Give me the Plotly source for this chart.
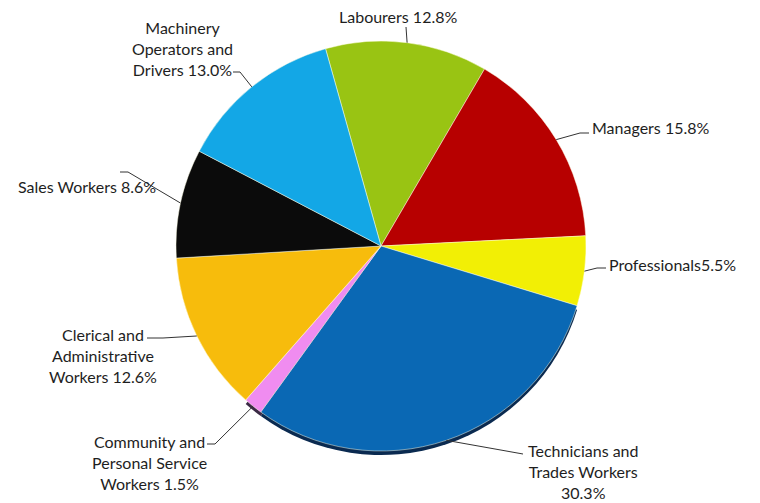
import math
import plotly.graph_objects as go

# Occupation shares (%), listed clockwise starting from Labourers
labels = [
    "Labourers",
    "Managers",
    "Professionals",
    "Technicians and Trades Workers",
    "Community and Personal Service Workers",
    "Clerical and Administrative Workers",
    "Sales Workers",
    "Machinery Operators and Drivers",
]
shares = [12.8, 15.8, 5.5, 30.3, 1.5, 12.6, 8.6, 13.0]
colors = ["#99c413", "#b70000", "#f2ef05", "#0a68b4",
          "#f08cf0", "#f7bc0c", "#0b0b0b", "#13a7e6"]

# Label text as printed beside each slice
label_text = [
    "Labourers 12.8%",
    "Managers 15.8%",
    "Professionals5.5%",
    "Technicians and<br>Trades Workers<br>30.3%",
    "Community and<br>Personal Service<br>Workers 1.5%",
    "Clerical and<br>Administrative<br>Workers 12.6%",
    "Sales Workers 8.6%",
    "Machinery<br>Operators and<br>Drivers 13.0%",
]

W, H = 760, 503
CX, CY, R = 381, 246, 205
ROTATION = -15.7

# label placement (pixels): text anchor, alignment, elbow of leader line, line end near text
label_pos = [
    dict(x=398, y=17, xanchor="center", elbow=(406, 27), end=(406, 27)),
    dict(x=590, y=128, xanchor="left", elbow=(580, 133), end=(589, 133)),
    dict(x=607, y=264, xanchor="left", elbow=(597, 268), end=(606, 268)),
    dict(x=583, y=471, xanchor="center", elbow=(523, 454), end=(523, 454)),
    dict(x=149, y=462, xanchor="center", elbow=(215, 444), end=(207, 444)),
    dict(x=103, y=355, xanchor="center", elbow=(163, 338), end=(147, 338)),
    dict(x=87, y=186, xanchor="center", elbow=(128, 172), end=(120, 172)),
    dict(x=182, y=48, xanchor="center", elbow=(240, 72), end=(233, 72)),
]

def px(x):
    return x / W

def py(y):
    return 1 - y / H

fig = go.Figure()

# dark rim under the front slices
shadow_colors = ["rgba(0,0,0,0)"] * len(shares)
shadow_colors[3] = "#0a2a50"
shadow_colors[4] = "#3a2a45"
SH = 4
fig.add_trace(go.Pie(
    labels=labels, values=shares, sort=False, direction="clockwise",
    rotation=ROTATION, textinfo="none", hoverinfo="skip",
    marker=dict(colors=shadow_colors, line=dict(width=0)),
    domain=dict(x=[px(CX - R), px(CX + R)], y=[py(CY + SH + R), py(CY + SH - R)]),
    showlegend=False,
))

fig.add_trace(go.Pie(
    labels=labels, values=shares, sort=False, direction="clockwise",
    rotation=ROTATION, textinfo="none",
    marker=dict(colors=colors, line=dict(color="rgba(255,255,230,0.6)", width=0.8)),
    domain=dict(x=[px(CX - R), px(CX + R)], y=[py(CY + R), py(CY - R)]),
    showlegend=False,
))

# leader lines from each slice's mid-angle to its label
total = sum(shares)
start = ROTATION
shapes = []
annotations = []
for share, text, pos in zip(shares, label_text, label_pos):
    span = share / total * 360
    mid = math.radians(start + span / 2)
    start += span
    ex = CX + R * math.sin(mid)
    ey = CY - R * math.cos(mid)
    path = (f"M {px(ex)},{py(ey)} L {px(pos['elbow'][0])},{py(pos['elbow'][1])} "
            f"L {px(pos['end'][0])},{py(pos['end'][1])}")
    shapes.append(dict(type="path", path=path, xref="paper", yref="paper",
                       line=dict(color="#333333", width=1)))
    annotations.append(dict(
        x=px(pos["x"]), y=py(pos["y"]), xref="paper", yref="paper",
        text=text, showarrow=False, xanchor=pos["xanchor"], yanchor="middle",
        align="center", font=dict(family="Lato", size=16, color="#1e1e1e"),
    ))

fig.update_layout(
    width=W, height=H,
    margin=dict(l=0, r=0, t=0, b=0),
    paper_bgcolor="white",
    plot_bgcolor="white",
    shapes=shapes,
    annotations=annotations,
)

fig.write_html("out.html")
